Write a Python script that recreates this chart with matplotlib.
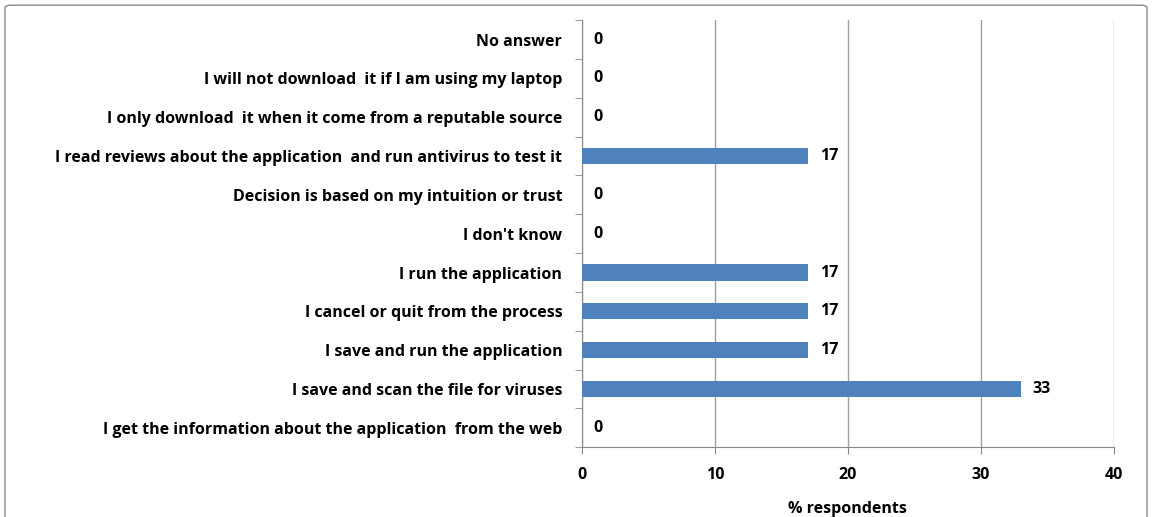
import matplotlib.pyplot as plt
from matplotlib.patches import FancyBboxPatch
import numpy as np

plt.rcParams['font.family'] = ['Open Sans', 'DejaVu Sans']

# Categories listed bottom to top
categories = [
    "I get the information about the application  from the web",
    "I save and scan the file for viruses",
    "I save and run the application",
    "I cancel or quit from the process",
    "I run the application",
    "I don't know",
    "Decision is based on my intuition or trust",
    "I read reviews about the application  and run antivirus to test it",
    "I only download  it when it come from a reputable source",
    "I will not download  it if I am using my laptop",
    "No answer",
]
values = [0, 33, 17, 17, 17, 0, 0, 17, 0, 0, 0]
xticks = [0, 10, 20, 30, 40]

fig = plt.figure(figsize=(11.52, 5.17), dpi=100)
ax = fig.add_axes([0.505, 0.135, 0.462, 0.826])

y = np.arange(len(categories))
ax.barh(y, values, height=0.42, color="#4f81bd", zorder=3)

for yi, v in zip(y, values):
    ax.text(v + 0.9, yi, str(v), va="center", ha="left",
            fontsize=11.5, fontweight="bold", color="black")

ax.set_xlim(0, 40)
ax.set_ylim(-0.5, len(categories) - 0.5)
ax.set_xticks(xticks)
ax.set_xticklabels([str(t) for t in xticks], fontsize=11.5, fontweight="bold")
ax.set_yticks(y)
ax.set_yticklabels(categories, fontsize=11.5, fontweight="bold")
ax.set_yticks(np.arange(-0.5, len(categories)), minor=True)
ax.tick_params(axis="y", which="major", length=0, pad=14)
ax.tick_params(axis="y", which="minor", length=5, direction="out", color="#888888")
ax.tick_params(axis="x", length=5, direction="out", color="#888888", pad=9)

ax.grid(axis="x", color="#a0a0a0", linewidth=1, zorder=0)
for s in ["top", "right"]:
    ax.spines[s].set_visible(False)
for s in ["left", "bottom"]:
    ax.spines[s].set_color("#888888")

ax.set_xlabel("% respondents", fontsize=11.5, fontweight="bold", labelpad=13)

border = FancyBboxPatch((5 / 1152, -0.05), 1 - 10 / 1152, 1.04, transform=fig.transFigure,
                        boxstyle="round,pad=0,rounding_size=0.005",
                        fill=False, edgecolor="#888888", linewidth=1)
fig.patches.append(border)

fig.savefig("out.png", dpi=100)
